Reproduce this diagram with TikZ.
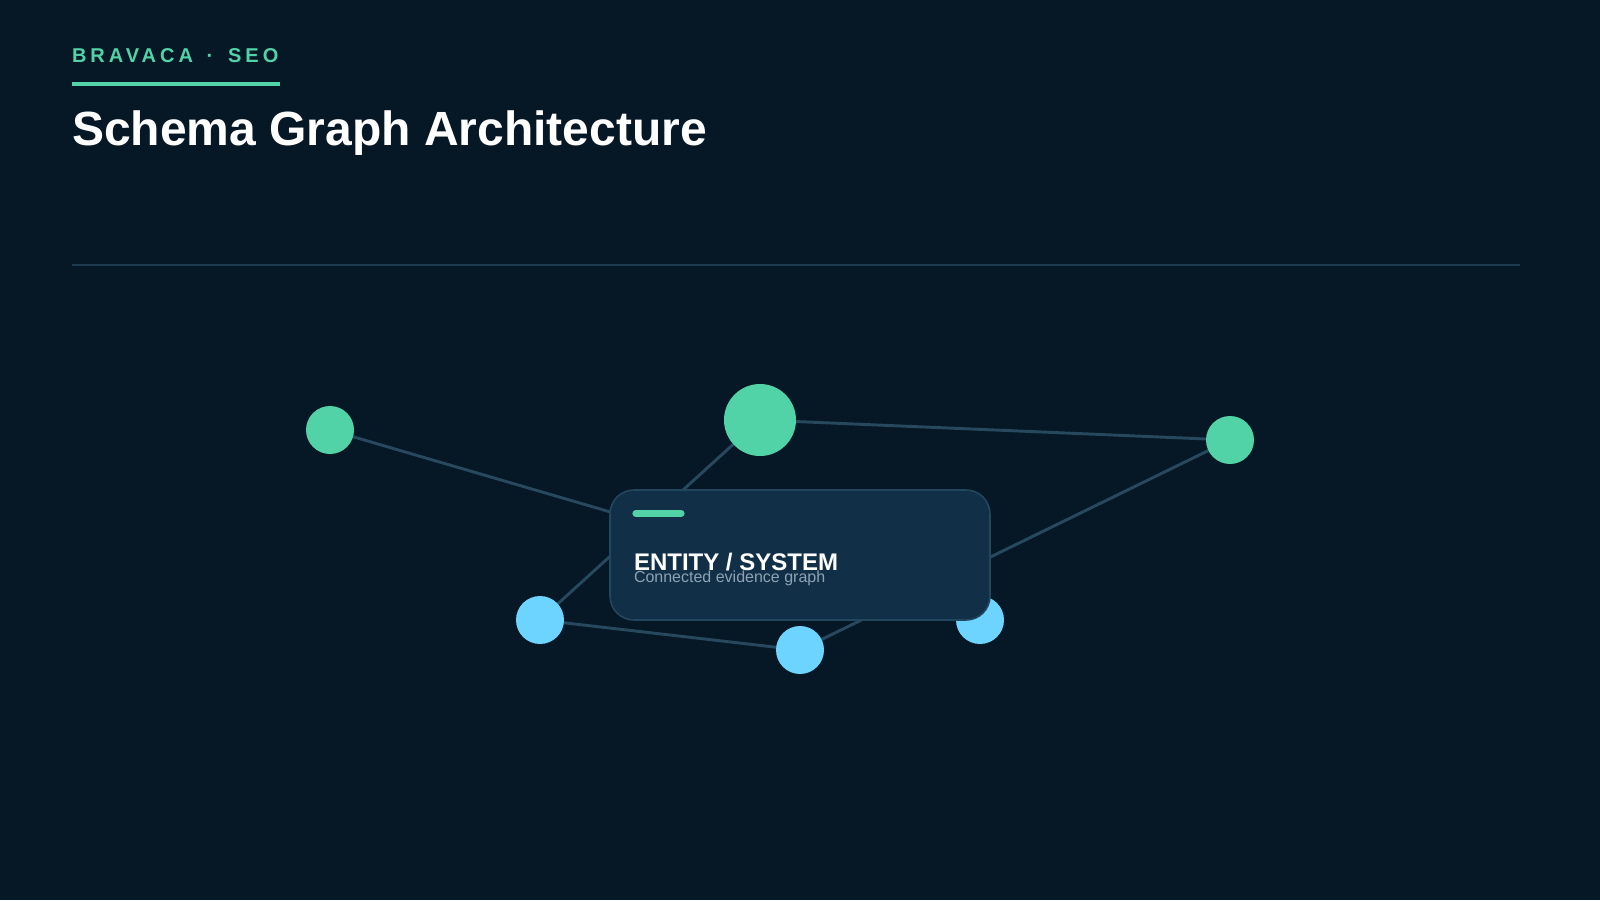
\documentclass[tikz,border=0pt]{standalone}
\usepackage{fontspec}
\setmainfont{Liberation Sans}
\newfontfamily\spacedfont[LetterSpace=20]{Liberation Sans}
\definecolor{bgc}{HTML}{061826}
\definecolor{greenc}{HTML}{52D3A7}
\definecolor{bluec}{HTML}{6DD3FF}
\definecolor{edgec}{HTML}{27485D}
\definecolor{sepc}{HTML}{1D3A4E}
\definecolor{boxfill}{HTML}{112F47}
\definecolor{boxline}{HTML}{23465F}
\definecolor{subc}{HTML}{8DA3B4}
\tikzset{
  txt/.style={anchor=base west, inner sep=0, outer sep=0},
  gnode/.style={circle, fill=greenc, draw=none, minimum size=36pt, inner sep=0},
  bignode/.style={circle, fill=greenc, draw=none, minimum size=54pt, inner sep=0},
  bnode/.style={circle, fill=bluec, draw=none, minimum size=36pt, inner sep=0},
  edge/.style={draw=edgec, line width=2.2pt},
}
\begin{document}
\begin{tikzpicture}[x=0.75pt,y=-0.75pt]
\fill[bgc] (0,0) rectangle (1600,900);
\useasboundingbox (0,0) rectangle (1600,900);
% header
\node[txt, text=greenc, font=\spacedfont\bfseries\fontsize{15}{18}\selectfont] (kicker) at (72,62) {BRAVACA\ \kern3pt·\ \kern4pt SEO};
\fill[greenc] (72,81.7) rectangle (280,85.7);
\node[txt, text=white, font=\bfseries\fontsize{36}{43}\selectfont] (title) at (72,145) {Schema Graph Architecture};
\draw[sepc, line width=1.5pt] (72,265) -- (1520,265);
% edges
\coordinate (pc1) at (330,430);
\coordinate (pbig) at (760,420);
\coordinate (pcR) at (1230,440);
\coordinate (pbL) at (540,620);
\coordinate (pbM) at (800,650);
\coordinate (pbR) at (980,620);
\draw[edge] (pc1) -- (pbR);
\draw[edge] (pbig) -- (pcR);
\draw[edge] (pbig) -- (pbL);
\draw[edge] (pbL) -- (pbM);
\draw[edge] (pbM) -- (pcR);
% nodes
\node[gnode] (c1) at (pc1) {};
\node[bignode] (big) at (pbig) {};
\node[gnode] (cR) at (pcR) {};
\node[bnode] (bL) at (pbL) {};
\node[bnode] (bM) at (pbM) {};
\node[bnode] (bR) at (pbR) {};
% central box
\draw[fill=boxfill, draw=boxline, line width=1.2pt, rounded corners=18pt] (610,490) rectangle (990,620);
\draw[greenc, line width=5.5pt, line cap=round] (636,513.5) -- (681,513.5);
\node[txt, text=white, font=\bfseries\fontsize{18}{22}\selectfont] (ent) at (634,570.5) {ENTITY / SYSTEM};
\node[txt, text=subc, font=\fontsize{12}{14}\selectfont] (sub) at (634,582.5) {Connected evidence graph};
\end{tikzpicture}
\end{document}
